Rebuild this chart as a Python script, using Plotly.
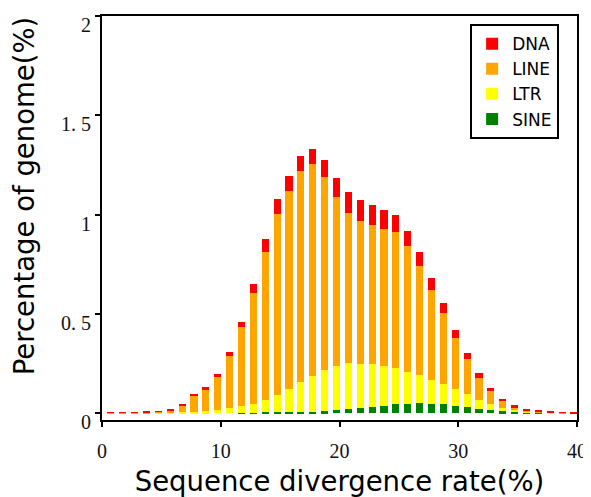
import plotly.graph_objects as go

# Divergence bins (%), one bar per bin
bins = list(range(1, 41))

dna = [0.004, 0.004, 0.004, 0.004, 0.004, 0.008, 0.008, 0.008, 0.010, 0.010,
       0.018, 0.027, 0.044, 0.064, 0.074, 0.076, 0.076, 0.076, 0.087, 0.097,
       0.104, 0.106, 0.102, 0.096, 0.089, 0.079, 0.072, 0.059, 0.049, 0.039,
       0.030, 0.022, 0.015, 0.012, 0.010, 0.005, 0.006, 0.005, 0.004, 0.004]
line = [0.001, 0.001, 0.001, 0.002, 0.005, 0.010, 0.037, 0.081, 0.113, 0.168,
        0.265, 0.398, 0.559, 0.744, 0.910, 0.998, 1.063, 1.066, 0.971, 0.853,
        0.759, 0.719, 0.699, 0.694, 0.683, 0.633, 0.551, 0.455, 0.359, 0.259,
        0.178, 0.111, 0.065, 0.035, 0.015, 0.007, 0.004, 0.002, 0.001, 0.000]
ltr = [0.000, 0.000, 0.000, 0.000, 0.001, 0.002, 0.003, 0.007, 0.008, 0.017,
       0.024, 0.035, 0.045, 0.064, 0.089, 0.116, 0.153, 0.181, 0.208, 0.223,
       0.233, 0.225, 0.217, 0.200, 0.183, 0.160, 0.141, 0.119, 0.102, 0.084,
       0.065, 0.045, 0.030, 0.018, 0.008, 0.005, 0.002, 0.001, 0.000, 0.000]
sine = [0.000, 0.000, 0.000, 0.000, 0.000, 0.000, 0.000, 0.000, 0.000, 0.000,
        0.000, 0.001, 0.002, 0.003, 0.004, 0.005, 0.005, 0.007, 0.008, 0.013,
        0.018, 0.024, 0.030, 0.035, 0.044, 0.047, 0.049, 0.047, 0.044, 0.037,
        0.030, 0.022, 0.015, 0.008, 0.007, 0.003, 0.001, 0.000, 0.000, 0.000]

y_tickvals = [0, 0.5, 1, 1.5, 2]
y_ticktext = ["0", "0. 5", "1", "1. 5", "2"]
x_tickvals = [0, 10, 20, 30, 40]

series = [("SINE", sine, "#008000"), ("LTR", ltr, "#FFFF00"),
          ("LINE", line, "#FFA500"), ("DNA", dna, "#FF0000")]

fig = go.Figure()
for name, vals, color in series:
    fig.add_trace(go.Bar(x=bins, y=vals, name=name,
                         marker=dict(color=color, line=dict(width=0)),
                         width=0.6, offset=-0.55))

tick_font = dict(family="Liberation Serif", size=20, color="#111")
title_font = dict(family="DejaVu Sans", size=27.5, color="black")
# page body adds an 8px margin, so the figure is 8px smaller than the window
fig.update_layout(
    barmode="stack",
    width=583, height=489,
    margin=dict(l=94, r=14, t=8, b=77),
    plot_bgcolor="white", paper_bgcolor="white",
    showlegend=True,
    legend=dict(x=0.775, y=0.98, xanchor="left", yanchor="top",
                traceorder="reversed", bordercolor="black", borderwidth=2,
                bgcolor="white",
                font=dict(family="DejaVu Sans", size=17, color="black"),
                itemwidth=30, tracegroupgap=0),
    xaxis=dict(range=[0, 40], tickvals=x_tickvals, ticks="outside", ticklen=5,
               tickwidth=2, tickcolor="black", showline=True, linecolor="black",
               linewidth=2, mirror=True, showgrid=False, zeroline=False,
               tickfont=tick_font, ticklabelstandoff=7, automargin=False,
               ticklabeloverflow="allow",
               title=dict(text="Sequence divergence rate(%)",
                          font=title_font, standoff=19)),
    yaxis=dict(range=[-0.035, 2], tickvals=y_tickvals, ticktext=y_ticktext,
               ticks="outside", ticklen=5, tickwidth=2, tickcolor="black",
               showline=True, linecolor="black", linewidth=2, mirror=True,
               showgrid=False, zeroline=False, tickfont=tick_font,
               automargin=False, ticklabelshift=9,
               ticklabeloverflow="allow"),
    annotations=[dict(text="Percentage of genome(%)", textangle=-90,
                      xref="paper", yref="paper", x=-0.164, y=0.554,
                      xanchor="center", yanchor="middle", showarrow=False,
                      font=title_font)],
)

fig.write_html("out.html")
